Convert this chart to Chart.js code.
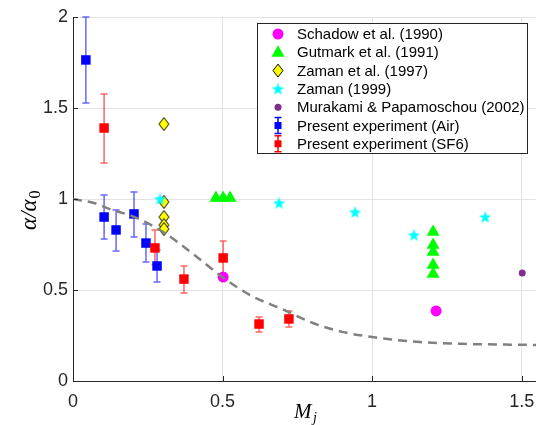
<!DOCTYPE html>
<html>
<head>
<meta charset="utf-8">
<script src="https://cdn.jsdelivr.net/npm/chart.js"></script>
<style>
body { margin: 0; background: #fff; }
</style>
</head>
<body>
<canvas id="myChart" width="536" height="425"></canvas>
<script>
// values
const schadowX = [0.502, 1.214];
const schadowY = [0.571, 0.385];

const gutmarkX = [0.478, 0.502, 0.525, 1.204, 1.204, 1.204, 1.204, 1.204];
const gutmarkY = [1.005, 1.005, 1.005, 0.819, 0.747, 0.709, 0.637, 0.588];

const zaman97X = [0.304, 0.304, 0.304, 0.304, 0.304];
const zaman97Y = [1.412, 0.984, 0.901, 0.857, 0.835];

const zaman99X = [0.291, 0.689, 0.943, 1.14, 1.378];
const zaman99Y = [1.0, 0.978, 0.928, 0.802, 0.901];

const murakamiX = [1.502];
const murakamiY = [0.593];

const airX  = [0.043, 0.104, 0.144, 0.204, 0.244, 0.281];
const airY  = [1.764, 0.901, 0.830, 0.918, 0.758, 0.632];
const airLo = [1.527, 0.780, 0.714, 0.791, 0.654, 0.544];
const airHi = [2.000, 1.022, 0.940, 1.038, 0.863, 0.720];

const sf6X  = [0.104, 0.274, 0.371, 0.502, 0.622, 0.722];
const sf6Y  = [1.390, 0.731, 0.560, 0.676, 0.313, 0.341];
const sf6Lo = [1.198, 0.640, 0.484, 0.582, 0.269, 0.297];
const sf6Hi = [1.577, 0.830, 0.632, 0.769, 0.352, 0.385];

// dashed trend curve
const curveX = [0, 0.07, 0.13, 0.2, 0.3, 0.4, 0.5, 0.6, 0.7, 0.8, 0.9, 1.0, 1.15, 1.3, 1.45, 1.55];
const curveY = [1.0, 0.978, 0.94, 0.905, 0.82, 0.70, 0.57, 0.465, 0.395, 0.32, 0.27, 0.242, 0.215, 0.204, 0.2, 0.198];

const xTicks = [0, 0.5, 1, 1.5];
const yTicks = [0, 0.5, 1, 1.5, 2];

const legendNames = [
    "Schadow et al. (1990)",
    "Gutmark et al. (1991)",
    "Zaman et al. (1997)",
    "Zaman (1999)",
    "Murakami & Papamoschou (2002)",
    "Present experiment (Air)",
    "Present experiment (SF6)"
];

const axisColor = '#262626';

function toPts(xs, ys){
    return xs.map((x, i) => ({x: x, y: ys[i]}));
}

function makeStar(r, fill){
    const c = document.createElement('canvas');
    const s = Math.ceil(r * 2 + 2);
    c.width = s; c.height = s;
    const g = c.getContext('2d');
    g.beginPath();
    for (let i = 0; i < 10; i++){
        const rad = i % 2 == 0 ? r : r * 0.42;
        const a = -Math.PI / 2 + i * Math.PI / 5;
        const px = s / 2 + rad * Math.cos(a), py = s / 2 + rad * Math.sin(a) + 0.5;
        if (i == 0) g.moveTo(px, py); else g.lineTo(px, py);
    }
    g.closePath();
    g.fillStyle = fill;
    g.fill();
    return c;
}

function makeDiamond(w, h){
    const c = document.createElement('canvas');
    c.width = w + 2; c.height = h + 2;
    const g = c.getContext('2d');
    g.beginPath();
    g.moveTo(c.width / 2, 1);
    g.lineTo(c.width - 1, c.height / 2);
    g.lineTo(c.width / 2, c.height - 1);
    g.lineTo(1, c.height / 2);
    g.closePath();
    g.fillStyle = '#ffff00';
    g.fill();
    g.strokeStyle = '#000';
    g.lineWidth = 1;
    g.stroke();
    return c;
}

const starImg = makeStar(6.5, '#00ffff');
const diamondImg = makeDiamond(10, 13);

function drawBars(ctx, xs, ys, px, lo, hi, color){
    ctx.save();
    ctx.strokeStyle = color;
    ctx.lineWidth = 1.5;
    px.forEach((x, i) => {
        const cx = xs.getPixelForValue(x);
        const y1 = ys.getPixelForValue(lo[i]);
        const y2 = ys.getPixelForValue(hi[i]);
        ctx.beginPath();
        ctx.moveTo(cx, y1); ctx.lineTo(cx, y2);
        ctx.moveTo(cx - 3.5, y1); ctx.lineTo(cx + 3.5, y1);
        ctx.moveTo(cx - 3.5, y2); ctx.lineTo(cx + 3.5, y2);
        ctx.stroke();
    });
    ctx.restore();
}

const errorBars = {
    id: 'errorBars',
    beforeDatasetsDraw(chart){
        const ctx = chart.ctx;
        drawBars(ctx, chart.scales.x, chart.scales.y, airX, airLo, airHi, 'rgba(0,0,255,0.6)');
        drawBars(ctx, chart.scales.x, chart.scales.y, sf6X, sf6Lo, sf6Hi, 'rgba(255,0,0,0.6)');
    }
};

function legendMarker(ctx, k, x, y){
    ctx.save();
    ctx.beginPath();
    if (k == 0){
        ctx.fillStyle = '#ff00ff';
        ctx.arc(x, y, 5.5, 0, Math.PI * 2);
        ctx.fill();
    } else if (k == 1){
        ctx.fillStyle = '#00ff00';
        ctx.moveTo(x, y - 7); ctx.lineTo(x + 6.5, y + 4.5); ctx.lineTo(x - 6.5, y + 4.5);
        ctx.closePath();
        ctx.fill();
    } else if (k == 2){
        ctx.drawImage(diamondImg, x - diamondImg.width / 2, y - diamondImg.height / 2);
    } else if (k == 3){
        ctx.drawImage(starImg, x - starImg.width / 2, y - starImg.height / 2);
    } else if (k == 4){
        ctx.fillStyle = '#7e2f8e';
        ctx.arc(x, y, 3.5, 0, Math.PI * 2);
        ctx.fill();
    } else {
        const col = k == 5 ? '#0000ff' : '#ff0000';
        ctx.strokeStyle = col;
        ctx.lineWidth = 1.5;
        ctx.moveTo(x, y - 8); ctx.lineTo(x, y + 8);
        ctx.moveTo(x - 3.5, y - 8); ctx.lineTo(x + 3.5, y - 8);
        ctx.moveTo(x - 3.5, y + 8); ctx.lineTo(x + 3.5, y + 8);
        ctx.stroke();
        ctx.fillStyle = col;
        ctx.fillRect(x - 3.5, y - 3.5, 7, 7);
    }
    ctx.restore();
}

const decorations = {
    id: 'decorations',
    afterDraw(chart){
        const ctx = chart.ctx;
        const xs = chart.scales.x, ys = chart.scales.y;
        const area = chart.chartArea;

        // inward tick marks
        ctx.save();
        ctx.strokeStyle = axisColor;
        ctx.lineWidth = 1;
        ctx.beginPath();
        xTicks.forEach(v => {
            const p = Math.round(xs.getPixelForValue(v)) + 0.5;
            ctx.moveTo(p, area.bottom); ctx.lineTo(p, area.bottom - 5);
        });
        yTicks.forEach(v => {
            const p = Math.round(ys.getPixelForValue(v)) + 0.5;
            ctx.moveTo(area.left, p); ctx.lineTo(area.left + 5, p);
        });
        ctx.stroke();
        ctx.restore();

        // axis titles
        ctx.save();
        ctx.fillStyle = '#000';
        ctx.textBaseline = 'alphabetic';
        ctx.font = "italic 21px 'Liberation Serif'";
        ctx.fillText('M', 294, 418);
        ctx.font = "italic 14px 'Liberation Serif'";
        ctx.fillText('j', 313, 422);

        ctx.translate(36, 230);
        ctx.rotate(-Math.PI / 2);
        ctx.font = "italic 23px 'Liberation Serif'";
        ctx.fillText('\u03b1/\u03b1', 0, 0);
        const w = ctx.measureText('\u03b1/\u03b1').width;
        ctx.font = "16px 'Liberation Serif'";
        ctx.fillText('0', w + 1, 4);
        ctx.restore();

        // legend box
        ctx.save();
        ctx.fillStyle = '#fff';
        ctx.fillRect(257, 23, 270, 130);
        ctx.strokeStyle = axisColor;
        ctx.lineWidth = 1;
        ctx.strokeRect(257.5, 23.5, 270, 130);
        ctx.font = "15px 'Liberation Sans'";
        ctx.fillStyle = '#000';
        ctx.textBaseline = 'middle';
        legendNames.forEach((name, k) => {
            const ly = 34 + k * 18.3;
            legendMarker(ctx, k, 278, ly);
            ctx.fillText(name, 297, ly + 1);
        });
        ctx.restore();
    }
};

const ctx = document.getElementById('myChart');

new Chart(ctx, {
    type: 'scatter',
    data: {
        datasets: [
            {
                label: 'curve',
                data: toPts(curveX, curveY),
                showLine: true,
                borderColor: '#808080',
                borderWidth: 2.5,
                borderDash: [9, 6],
                pointRadius: 0,
                cubicInterpolationMode: 'monotone',
                order: 0
            },
            {
                label: legendNames[0],
                data: toPts(schadowX, schadowY),
                pointStyle: 'circle',
                pointRadius: 5.5,
                backgroundColor: '#ff00ff',
                borderWidth: 0,
                order: 1
            },
            {
                label: legendNames[5],
                data: toPts(airX, airY),
                pointStyle: 'rect',
                pointRadius: 6.7,
                backgroundColor: '#0000ff',
                borderWidth: 0,
                order: 3
            },
            {
                label: legendNames[6],
                data: toPts(sf6X, sf6Y),
                pointStyle: 'rect',
                pointRadius: 6.7,
                backgroundColor: '#ff0000',
                borderWidth: 0,
                order: 2
            },
            {
                label: legendNames[1],
                data: toPts(gutmarkX, gutmarkY),
                pointStyle: 'triangle',
                pointRadius: 7.5,
                backgroundColor: '#00ff00',
                borderWidth: 0,
                order: 4
            },
            {
                label: legendNames[2],
                data: toPts(zaman97X, zaman97Y),
                pointStyle: diamondImg,
                pointRadius: 6,
                order: 6
            },
            {
                label: legendNames[3],
                data: toPts(zaman99X, zaman99Y),
                pointStyle: starImg,
                pointRadius: 6,
                order: 5
            },
            {
                label: legendNames[4],
                data: toPts(murakamiX, murakamiY),
                pointStyle: 'circle',
                pointRadius: 3.5,
                backgroundColor: '#7e2f8e',
                borderWidth: 0,
                order: 7
            }
        ]
    },
    options: {
        responsive: false,
        animation: false,
        layout: { autoPadding: false, padding: { top: 17, right: 0, left: 0, bottom: 0 } },
        plugins: {
            legend: { display: false },
            tooltip: { enabled: false }
        },
        scales: {
            x: {
                type: 'linear',
                min: 0,
                max: 1.548,
                afterFit: s => { s.height = 44; s.paddingLeft = 0; s.paddingRight = 0; },
                afterBuildTicks: s => { s.ticks = xTicks.map(v => ({value: v})); },
                ticks: {
                    font: { family: "'Liberation Sans'", size: 18 },
                    color: axisColor,
                    padding: 10,
                    maxRotation: 0,
                    callback: v => String(v)
                },
                grid: { color: '#e3e3e3', drawTicks: false },
                border: { color: axisColor, width: 1 }
            },
            y: {
                min: 0,
                max: 2,
                afterFit: s => { s.width = 73; s.paddingTop = 0; s.paddingBottom = 0; },
                afterBuildTicks: s => { s.ticks = yTicks.map(v => ({value: v})); },
                ticks: {
                    font: { family: "'Liberation Sans'", size: 18 },
                    color: axisColor,
                    padding: 5,
                    callback: v => String(v)
                },
                grid: { color: '#e3e3e3', drawTicks: false },
                border: { color: axisColor, width: 1 }
            }
        }
    },
    plugins: [errorBars, decorations]
});
</script>
</body>
</html>
